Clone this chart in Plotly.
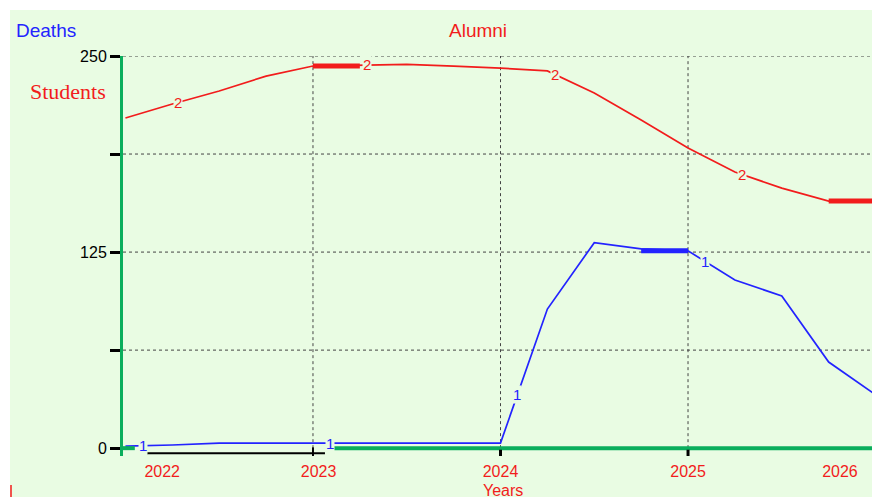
import numpy as np
import plotly.graph_objects as go

# ---------------- data ----------------
years = [2022.0, 2022.25, 2022.5, 2022.75, 2023.0, 2023.25, 2023.5, 2023.75,
         2024.0, 2024.25, 2024.5, 2024.75, 2025.0, 2025.25, 2025.5, 2025.75, 2026.0]
students = [210.5, 219.4, 227.7, 237.2, 243.6, 244.3, 244.6, 243.6,
            242.3, 240.5, 226.4, 209.2, 191.3, 176.0, 165.8, 157.5, 157.5]
deaths = [1.3, 2.0, 3.2, 3.2, 3.2, 3.2, 3.2, 3.2,
          3.2, 88.7, 131.0, 127.0, 125.8, 107.2, 97.0, 54.9, 34.0]

y_tickvals = [0, 62.5, 125, 187.5, 250]
y_ticktext = ["0", "", "125", "", "250"]
grid_y = [62.5, 125, 187.5, 250]
grid_x = [2023, 2024, 2025]
year_labels = ["2022", "2023", "2024", "2025", "2026"]
year_label_pos = [2022.196, 2023.03, 2024.0, 2025.0, 2025.81]
blue_num_x = [2022.093, 2023.09, 2024.09, 2025.09]
red_num_x = [2022.28, 2023.29, 2024.29, 2025.29]

# ---------------- styling ----------------
BG = "#E9FCE3"
RED = "#F21C1C"
BLUE = "#2323FF"
GREEN = "#0AAE5C"
W, H = 872, 497
L, R, T, B = 123, 0, 56, 41
PW, PH = W - L - R, H - T - B
XR = [2021.987, 2025.981]
YR = [-5, 250]


def px(xp):
    return (xp - L) / PW


def py(yp):
    return (H - B - yp) / PH


fig = go.Figure()

# main lines
fig.add_trace(go.Scatter(x=years, y=students, mode="lines",
                         line=dict(color=RED, width=1.7), hoverinfo="skip"))
fig.add_trace(go.Scatter(x=years, y=deaths, mode="lines",
                         line=dict(color=BLUE, width=1.7), hoverinfo="skip"))
# thick highlighted segments
fig.add_trace(go.Scatter(x=years[4:6], y=[students[4]] * 2, mode="lines",
                         line=dict(color=RED, width=5), hoverinfo="skip"))
fig.add_trace(go.Scatter(x=years[15:17], y=students[15:17], mode="lines",
                         line=dict(color=RED, width=5), hoverinfo="skip"))
fig.add_trace(go.Scatter(x=years[11:13], y=[deaths[12]] * 2, mode="lines",
                         line=dict(color=BLUE, width=5), hoverinfo="skip"))

shapes = []
# background panel with white border top/left
shapes.append(dict(type="rect", xref="paper", yref="paper", x0=px(10), x1=1.0,
                   y0=py(H + 5), y1=py(10), fillcolor=BG, line=dict(width=0), layer="below"))
# grid lines
for g in grid_y:
    shapes.append(dict(type="line", xref="paper", yref="y", x0=0, x1=1, y0=g, y1=g,
                       line=dict(color="#444444", width=1, dash="dot"), layer="below"))
for g in grid_x:
    shapes.append(dict(type="line", xref="x", yref="y", x0=g, x1=g, y0=0, y1=250,
                       line=dict(color="#444444", width=1, dash="dot"), layer="below"))
# green x axis line (partial)
shapes.append(dict(type="line", xref="x", yref="y", x0=2023.09, x1=XR[1], y0=0, y1=0,
                   line=dict(color=GREEN, width=4)))
shapes.append(dict(type="line", xref="x", yref="y", x0=XR[0], x1=2022.05, y0=0, y1=0,
                   line=dict(color=GREEN, width=4)))
# black bar under first year
shapes.append(dict(type="line", xref="x", yref="y", x0=2022.115, x1=2023.064, y0=-3.3, y1=-3.3,
                   line=dict(color="black", width=2)))
shapes.append(dict(type="line", xref="x", yref="y", x0=2023.0, x1=2023.0, y0=0.5, y1=-7,
                   line=dict(color="black", width=2)))
# x tick marks
for g in [2024, 2025]:
    shapes.append(dict(type="line", xref="x", yref="y", x0=g, x1=g, y0=-1, y1=-6,
                       line=dict(color="black", width=3)))
# red stray mark at bottom-left
shapes.append(dict(type="line", xref="paper", yref="paper", x0=px(11), x1=px(11),
                   y0=py(485), y1=py(497), line=dict(color=RED, width=1.5)))

annotations = []
for xv in blue_num_x:
    annotations.append(dict(x=xv, y=float(np.interp(xv, years, deaths)), xref="x", yref="y",
                            text="1", showarrow=False, font=dict(color=BLUE, size=15, family="Liberation Sans"),
                            bgcolor=BG, borderpad=0))
for xv in red_num_x:
    annotations.append(dict(x=xv, y=float(np.interp(xv, years, students)), xref="x", yref="y",
                            text="2", showarrow=False, font=dict(color=RED, size=15, family="Liberation Sans"),
                            bgcolor=BG, borderpad=0))


def title(text, xp, yp, color, size, family):
    annotations.append(dict(x=px(xp), y=py(yp), xref="paper", yref="paper", text=text,
                            xanchor="center", yanchor="middle", showarrow=False,
                            font=dict(color=color, size=size, family=family)))


title("Deaths", 46, 30, BLUE, 19, "Liberation Sans")
title("Students", 68, 92, RED, 22, "Liberation Serif")
title("Alumni", 478, 30, RED, 19, "Liberation Sans")
title("Years", 503, 491, RED, 16, "Liberation Sans")

fig.update_layout(
    width=W, height=H,
    margin=dict(l=L, r=R, t=T, b=B, pad=0),
    paper_bgcolor="white", plot_bgcolor=BG,
    showlegend=False,
    shapes=shapes, annotations=annotations,
    xaxis=dict(range=XR, showgrid=False, zeroline=False, showline=False,
               tickvals=year_label_pos, ticktext=year_labels, ticks="",
               tickfont=dict(color=RED, size=16, family="Liberation Sans"),
               ticklabelstandoff=4),
    yaxis=dict(range=YR, showgrid=False, zeroline=False, showline=True,
               linecolor=GREEN, linewidth=3,
               tickvals=y_tickvals, ticktext=y_ticktext, ticks="outside",
               ticklen=10, tickwidth=3, tickcolor="black",
               tickfont=dict(color="black", size=16, family="Liberation Sans")),
)

fig.write_html("out.html", config={"displayModeBar": False},
               post_script="document.body.style.margin='0';document.body.style.overflow='hidden';")
